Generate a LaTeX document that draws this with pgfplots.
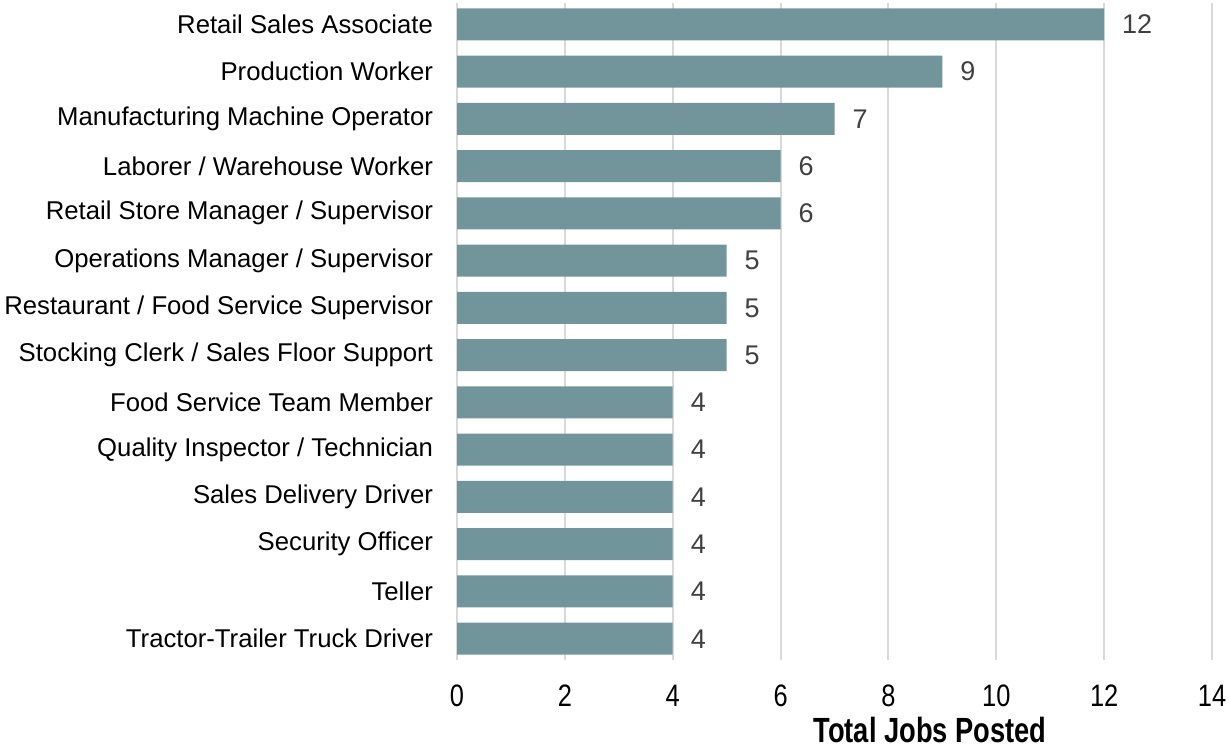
\documentclass[border=0pt]{standalone}
\usepackage{fontspec}
\usepackage{pgfplots}
\pgfplotsset{compat=1.18}
\setmainfont{Liberation Sans}
\newfontfamily\narrowfont[FakeStretch=0.82]{Liberation Sans}
\newfontfamily\titlefont[FakeStretch=0.78]{Liberation Sans Bold}
\definecolor{barc}{HTML}{72959C}
\definecolor{gridc}{HTML}{D9D9D9}
\definecolor{valc}{HTML}{404040}
\begin{document}
\begin{tikzpicture}
\useasboundingbox (0,0) rectangle (615pt,374.5pt);
\begin{axis}[
  at={(228.5pt,44.5pt)}, anchor=south west,
  scale only axis, width=377.5pt, height=328.5pt,
  xbar, bar width=16pt,
  xmin=0, xmax=14, ymin=-0.45, ymax=13.45,
  xtick={0,2,...,14},
  ytick={0,...,13},
  yticklabels={Tractor-Trailer Truck Driver, Teller, Security Officer, Sales Delivery Driver, Quality Inspector / Technician, Food Service Team Member, Stocking Clerk / Sales Floor Support, Restaurant / Food Service Supervisor, Operations Manager / Supervisor, Retail Store Manager / Supervisor, Laborer / Warehouse Worker, Manufacturing Machine Operator, Production Worker, Retail Sales Associate},
  axis line style={draw=none},
  major tick length=0pt,
  xmajorgrids, grid style={gridc, line width=1pt},
  /pgf/number format/assume math mode=true,
  xticklabel style={font=\fontsize{15.5}{18}\narrowfont, text=black, yshift=-9pt},
  yticklabel style={font=\fontsize{12.85}{15}\selectfont, text=black, xshift=-8.5pt},
  nodes near coords,
  every node near coord/.append style={font=\fontsize{13.5}{15}\selectfont, text=valc, anchor=west, xshift=5.5pt},
  clip=false,
]
\addplot[fill=barc, draw=none] coordinates {
(4,0) (4,1) (4,2) (4,3) (4,4) (4,5) (5,6) (5,7) (5,8) (6,9) (6,10) (7,11) (9,12) (12,13)
};
\end{axis}
\node[anchor=base, font=\fontsize{17.5}{20}\titlefont] at (465pt,3.2pt) {Total Jobs Posted};
\end{tikzpicture}
\end{document}
